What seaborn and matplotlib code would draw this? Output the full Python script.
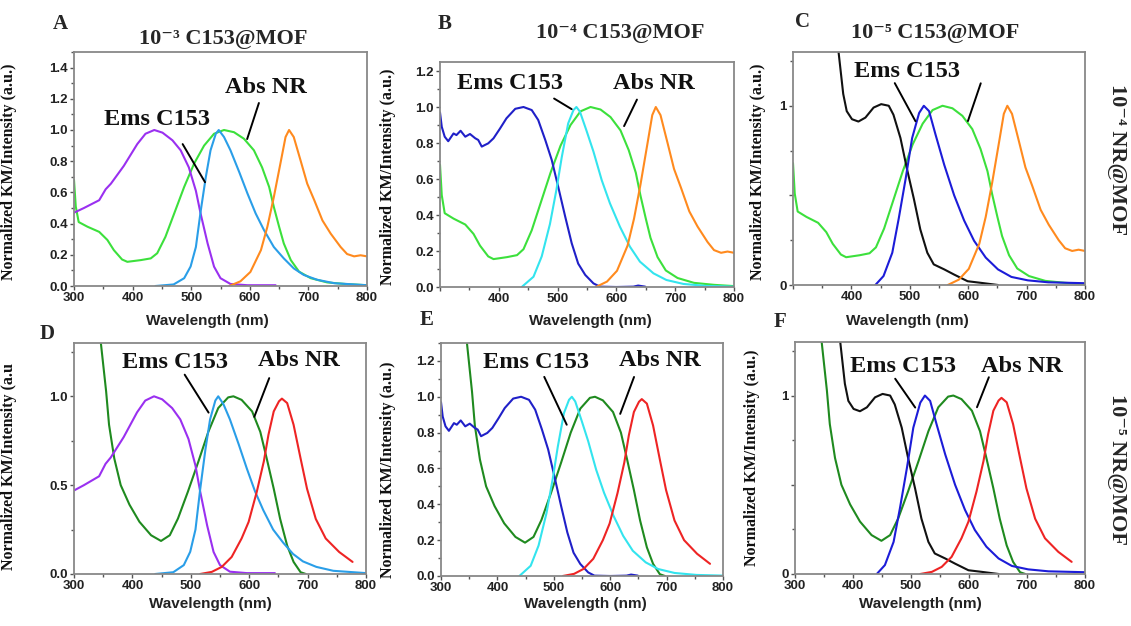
import matplotlib
matplotlib.use('Agg')
import matplotlib.pyplot as plt
from matplotlib.ticker import AutoMinorLocator
import seaborn as sns
import pandas as pd

# --- data (wavelength in nm, normalized intensity) ---
# C153 absorption / emission, 10^-3 loading
c153_abs_3_wl = [300, 317, 343, 354, 363, 385, 408, 422, 437, 451, 468, 482, 496, 508, 516, 528, 539, 550, 567, 596, 644]
c153_abs_3 = [0.47, 0.50, 0.55, 0.62, 0.656, 0.77, 0.91, 0.976, 1.0, 0.983, 0.934, 0.87, 0.76, 0.61, 0.465, 0.273, 0.124, 0.05, 0.013, 0.005, 0.005]
c153_ems_3_wl = [439, 470, 488, 499, 508, 516, 525, 533, 542, 547, 556, 567, 582, 596, 610, 624, 641, 658, 675, 692, 715, 744, 800]
c153_ems_3 = [0.0, 0.01, 0.05, 0.125, 0.25, 0.475, 0.70, 0.87, 0.976, 1.0, 0.955, 0.87, 0.73, 0.593, 0.465, 0.36, 0.25, 0.177, 0.113, 0.071, 0.04, 0.018, 0.005]

# C153 absorption / emission, 10^-4 loading
c153_abs_4_wl = [300, 303, 308, 314, 323, 328, 335, 343, 351, 360, 365, 371, 377, 382, 391, 402, 413, 428, 442, 456,
                 467, 479, 490, 501, 513, 524, 535, 547, 561, 572, 600, 629, 637, 649]
c153_abs_4 = [0.97, 0.89, 0.835, 0.81, 0.853, 0.844, 0.868, 0.835, 0.85, 0.826, 0.817, 0.78, 0.79, 0.798, 0.826, 0.88, 0.937, 0.99, 1.0, 0.983,
              0.928, 0.817, 0.706, 0.557, 0.39, 0.243, 0.13, 0.067, 0.02, 0.002, 0.0, 0.002, 0.008, 0.002]
c153_ems_4_wl = [439, 459, 473, 487, 498, 507, 518, 527, 532, 538, 549, 561, 575, 589, 606, 623, 640, 663, 685, 714, 753, 802]
c153_ems_4 = [0.0, 0.057, 0.17, 0.35, 0.54, 0.72, 0.909, 0.983, 1.0, 0.974, 0.87, 0.752, 0.594, 0.465, 0.335, 0.224, 0.141, 0.076, 0.039, 0.017, 0.006, 0.002]

# C153 absorption / emission, 10^-5 loading
c153_abs_5_wl = [372, 378, 386, 392, 401, 412, 424, 438, 451, 464, 472, 484, 495, 507, 518, 530, 541, 559, 576, 599, 622, 651]
c153_abs_5 = [1.45, 1.3, 1.066, 0.97, 0.925, 0.912, 0.934, 0.99, 1.009, 1.0, 0.95, 0.82, 0.65, 0.48, 0.31, 0.18, 0.115, 0.087, 0.058, 0.021, 0.012, 0.0]
c153_ems_5_wl = [441, 455, 470, 481, 493, 504, 516, 524, 533, 544, 559, 576, 593, 610, 630, 651, 674, 702, 737, 800]
c153_ems_5 = [0.0, 0.05, 0.18, 0.37, 0.595, 0.82, 0.96, 1.0, 0.97, 0.84, 0.67, 0.50, 0.36, 0.247, 0.153, 0.087, 0.045, 0.026, 0.015, 0.01]

# Nile Red absorption / emission, 10^-4 loading
nr_abs_4_wl = [300, 303, 308, 323, 343, 357, 368, 382, 391, 414, 431, 442, 456, 471, 488, 505, 522, 539, 556, 573,
               590, 607, 621, 633, 641, 650, 658, 670, 684, 704, 732, 766, 800]
nr_abs_4 = [0.68, 0.51, 0.41, 0.38, 0.347, 0.295, 0.23, 0.17, 0.155, 0.166, 0.177, 0.21, 0.315, 0.465, 0.635, 0.785, 0.90, 0.976, 1.0, 0.986,
            0.944, 0.87, 0.76, 0.635, 0.507, 0.38, 0.273, 0.166, 0.092, 0.05, 0.023, 0.012, 0.005]
nr_ems_4_wl = [565, 584, 601, 619, 630, 641, 653, 661, 667, 675, 687, 698, 710, 724, 738, 755, 766, 778, 789, 800]
nr_ems_4 = [0.0, 0.03, 0.09, 0.23, 0.38, 0.57, 0.80, 0.955, 1.0, 0.955, 0.80, 0.656, 0.55, 0.42, 0.336, 0.25, 0.205, 0.19, 0.197, 0.19]

# Nile Red absorption / emission, 10^-5 loading
nr_abs_5_wl = [340, 346, 355, 360, 369, 380, 395, 412, 432, 449, 464, 478, 495, 513, 530, 547, 564, 573,
               587, 605, 619, 630, 642, 653, 665, 676, 688, 697]
nr_abs_5 = [1.45, 1.3, 1.028, 0.84, 0.65, 0.50, 0.39, 0.294, 0.218, 0.186, 0.218, 0.312, 0.463, 0.633, 0.80, 0.934, 0.994, 1.0,
            0.98, 0.915, 0.80, 0.65, 0.48, 0.31, 0.16, 0.068, 0.01, 0.0]
nr_ems_5_wl = [516, 536, 553, 570, 587, 599, 613, 625, 633, 642, 651, 656, 665, 676, 688, 699, 714, 731, 754, 777]
nr_ems_5 = [0.0, 0.012, 0.04, 0.096, 0.20, 0.293, 0.463, 0.633, 0.784, 0.915, 0.972, 0.987, 0.962, 0.84, 0.65, 0.48, 0.31, 0.20, 0.124, 0.068]

W, H = 1131, 626
SERIF = ['Liberation Serif', 'DejaVu Serif']
SANS = 'Liberation Sans'

sns.set_style('white')
plt.rcParams['font.family'] = ['Liberation Sans', 'DejaVu Sans']

fig = plt.figure(figsize=(W / 100, H / 100), dpi=100)


def px_axes(left, top, right, bottom):
    return fig.add_axes([left / W, 1 - bottom / H, (right - left) / W, (bottom - top) / H])


def draw(ax, curves):
    for wl, vals, color in curves:
        df = pd.DataFrame({'wl': wl, 'val': vals})
        sns.lineplot(data=df, x='wl', y='val', color=color, lw=1.5, ax=ax, sort=False)


def style(ax, ylim, yticks, ylabels, xlabels):
    ax.set_xlim(300, 800)
    ax.set_ylim(0, ylim)
    ax.set_xticks([300, 400, 500, 600, 700, 800])
    ax.set_xticklabels(xlabels)
    ax.set_yticks(yticks)
    ax.set_yticklabels(ylabels)
    ax.xaxis.set_minor_locator(AutoMinorLocator(2))
    ax.yaxis.set_minor_locator(AutoMinorLocator(2))
    ax.tick_params(which='both', bottom=True, left=True, top=False, right=False)
    ax.tick_params(which='major', direction='out', length=3, width=1, color='#555555', pad=1.5)
    ax.tick_params(which='minor', direction='out', length=2, width=1, color='#555555')
    for lab in ax.get_xticklabels() + ax.get_yticklabels():
        lab.set_fontfamily(SANS)
        lab.set_fontweight('bold')
        lab.set_fontsize(9.5)
        lab.set_color('#222222')
    for sp in ax.spines.values():
        sp.set_color('#888888')
        sp.set_linewidth(1.3)
    ax.set_xlabel('')
    ax.set_ylabel('')


def note(ax, text, pos, start, end):
    if text:
        ax.text(pos[0], pos[1], text, family=SERIF, weight='bold', fontsize=17.5,
                ha='center', va='center', color='#111111')
    ax.annotate('', xy=end, xytext=start,
                arrowprops=dict(arrowstyle='-', color='black', lw=1.4))


xl_all = ['300', '400', '500', '600', '700', '800']
xl_cut = ['', '400', '500', '600', '700', '800']

violet, sky, navy, cyan = '#9a30f0', '#2a9ee8', '#2020c8', '#33e4ee'
black, blue, lime, orange = '#111111', '#1c1cd8', '#3ce03c', '#ff8a1e'
dgreen, red = '#1f8a1f', '#ee2424'

# A
axA = px_axes(74, 52, 367, 286)
draw(axA, [(nr_abs_4_wl, nr_abs_4, lime), (c153_abs_3_wl, c153_abs_3, violet),
           (c153_ems_3_wl, c153_ems_3, sky), (nr_ems_4_wl, nr_ems_4, orange)])
style(axA, 1.5, [0, 0.2, 0.4, 0.6, 0.8, 1.0, 1.2, 1.4],
      ['0.0', '0.2', '0.4', '0.6', '0.8', '1.0', '1.2', '1.4'], xl_all)
note(axA, 'Ems C153', (441, 1.07), (483, 0.925), (526, 0.65))
note(axA, 'Abs NR', (628, 1.27), (617, 1.19), (594, 0.925))

# B
axB = px_axes(440, 62, 734, 287)
draw(axB, [(nr_abs_4_wl, nr_abs_4, lime), (c153_abs_4_wl, c153_abs_4, navy),
           (c153_ems_4_wl, c153_ems_4, cyan), (nr_ems_4_wl, nr_ems_4, orange)])
style(axB, 1.25, [0, 0.2, 0.4, 0.6, 0.8, 1.0, 1.2],
      ['0.0', '0.2', '0.4', '0.6', '0.8', '1.0', '1.2'], xl_cut)
note(axB, 'Ems C153', (419, 1.13), (490, 1.055), (528, 0.98))
note(axB, 'Abs NR', (663, 1.13), (637, 1.055), (611, 0.88))

# C
axC = px_axes(793, 52, 1085, 285)
draw(axC, [(nr_abs_4_wl, nr_abs_4, lime), (c153_abs_5_wl, c153_abs_5, black),
           (c153_ems_5_wl, c153_ems_5, blue), (nr_ems_4_wl, nr_ems_4, orange)])
style(axC, 1.3, [0, 0.5, 1.0], ['0', '', '1'], xl_cut)
note(axC, 'Ems C153', (495, 1.19), (472, 1.14), (512, 0.90))
note(axC, '', None, (623, 1.14), (598, 0.90))

# D
axD = px_axes(74, 343, 366, 574)
draw(axD, [(nr_abs_5_wl, nr_abs_5, dgreen), (c153_abs_3_wl, c153_abs_3, violet),
           (c153_ems_3_wl, c153_ems_3, sky), (nr_ems_5_wl, nr_ems_5, red)])
style(axD, 1.3, [0, 0.5, 1.0], ['0.0', '0.5', '1.0'], xl_all)
note(axD, 'Ems C153', (473, 1.19), (487, 1.135), (533, 0.895))
note(axD, 'Abs NR', (685, 1.20), (636, 1.117), (607, 0.87))

# E
axE = px_axes(441, 343, 723, 576)
draw(axE, [(nr_abs_5_wl, nr_abs_5, dgreen), (c153_abs_4_wl, c153_abs_4, navy),
           (c153_ems_4_wl, c153_ems_4, cyan), (nr_ems_5_wl, nr_ems_5, red)])
style(axE, 1.3, [0, 0.2, 0.4, 0.6, 0.8, 1.0, 1.2],
      ['0.0', '0.2', '0.4', '0.6', '0.8', '1.0', '1.2'], xl_all)
note(axE, 'Ems C153', (469, 1.19), (481, 1.125), (525, 0.83))
note(axE, 'Abs NR', (688, 1.20), (644, 1.125), (616, 0.89))

# F
axF = px_axes(795, 342, 1085, 574)
draw(axF, [(nr_abs_5_wl, nr_abs_5, dgreen), (c153_abs_5_wl, c153_abs_5, black),
           (c153_ems_5_wl, c153_ems_5, blue), (nr_ems_5_wl, nr_ems_5, red)])
style(axF, 1.3, [0, 0.5, 1.0], ['0', '', '1'], xl_all)
note(axF, 'Ems C153', (487, 1.16), (470, 1.107), (510, 0.92))
note(axF, 'Abs NR', (691, 1.16), (636, 1.117), (612, 0.92))


def ftext(x, y, s, **kw):
    fig.text(x / W, 1 - y / H, s, ha='center', va='center', **kw)


# panel letters
for x, y, s in [(60, 24, 'A'), (445, 24, 'B'), (803, 22, 'C'),
                (47, 334, 'D'), (427, 320, 'E'), (780, 322, 'F')]:
    ftext(x, y, s, family=SERIF, weight='bold', fontsize=15)

# column titles
for x, y, s in [(223, 39, '10⁻³ C153@MOF'), (620, 33, '10⁻⁴ C153@MOF'),
                (935, 33, '10⁻⁵ C153@MOF')]:
    ftext(x, y, s, family=SERIF, weight='bold', fontsize=16)

# row labels on the right
ftext(1117, 160, '10⁻⁴ NR@MOF', family=SERIF, weight='bold', fontsize=16, rotation=-90)
ftext(1117, 470, '10⁻⁵ NR@MOF', family=SERIF, weight='bold', fontsize=16, rotation=-90)

# x labels
for x, y in [(207, 321), (590, 321), (907, 321), (210, 604), (585, 604), (920, 604)]:
    ftext(x, y, 'Wavelength (nm)', family=SANS, weight='bold', fontsize=11, color='#222222')

# y labels
ylab = 'Normalized KM/Intensity (a.u.)'
for x, y, s in [(9, 172, ylab), (388, 177, ylab), (758, 172, ylab),
                (9, 466, 'Normalized KM/Intensity (a.u'), (388, 470, ylab), (752, 458, ylab)]:
    ftext(x, y, s, family=SERIF, weight='bold', fontsize=11.5, rotation=90, color='#111111')

fig.savefig('out.png', dpi=100, facecolor='white')
plt.close(fig)
